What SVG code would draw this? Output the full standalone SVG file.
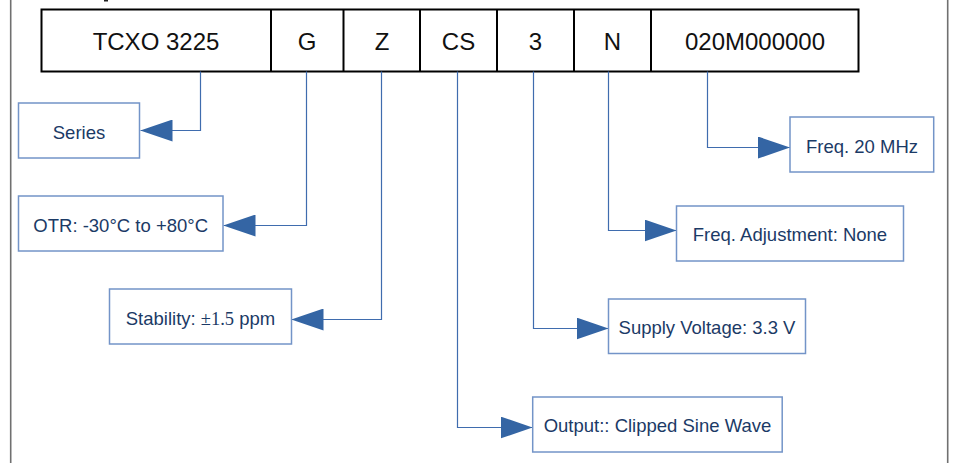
<svg xmlns="http://www.w3.org/2000/svg" width="955" height="463" viewBox="0 0 955 463">
<defs>
<marker id="ah" viewBox="0 0 32 22" refX="32" refY="11" markerWidth="32" markerHeight="22" markerUnits="userSpaceOnUse" orient="auto">
<path d="M0,0 L32,11 L0,22 z" fill="#3465a4"/>
</marker>
<style>
.frame{stroke:#707070;stroke-width:1.6;fill:none}
.code{fill:#fff;stroke:#000;stroke-width:2}
.div{stroke:#000;stroke-width:2}
.ct{font-family:"Liberation Sans",Arial,sans-serif;font-size:24px;fill:#111;text-anchor:middle}
.box{fill:#fff;stroke:#7394c8;stroke-width:1.5}
.bt{font-family:"Liberation Sans",Arial,sans-serif;font-size:18.5px;fill:#1b3a66;text-anchor:middle}
.ser{font-family:"Liberation Serif","Times New Roman",serif}
.conn{fill:none;stroke:#3f6cae;stroke-width:1.2;marker-end:url(#ah)}
</style>
</defs>
<rect width="955" height="463" fill="#fff"/>
<line class="frame" x1="10.7" y1="0" x2="10.7" y2="463"/>
<line class="frame" x1="947.7" y1="0" x2="947.7" y2="463"/>
<rect x="104" y="0" width="4" height="1.5" fill="#222"/>

<g id="code">
<rect class="code" x="41.5" y="9.5" width="817" height="62"/>
<line class="div" x1="271" y1="9.5" x2="271" y2="71.5"/>
<line class="div" x1="343.5" y1="9.5" x2="343.5" y2="71.5"/>
<line class="div" x1="420" y1="9.5" x2="420" y2="71.5"/>
<line class="div" x1="497" y1="9.5" x2="497" y2="71.5"/>
<line class="div" x1="574" y1="9.5" x2="574" y2="71.5"/>
<line class="div" x1="651" y1="9.5" x2="651" y2="71.5"/>
<text class="ct" x="156" y="49.5">TCXO 3225</text>
<text class="ct" x="307" y="49.5">G</text>
<text class="ct" x="382" y="49.5">Z</text>
<text class="ct" x="458.5" y="49.5">CS</text>
<text class="ct" x="535.5" y="49.5">3</text>
<text class="ct" x="612.5" y="49.5">N</text>
<text class="ct" x="755" y="49.5">020M000000</text>
</g>

<g id="connectors">
<path class="conn" d="M200.5,71.5 V130.5 H140.5"/>
<path class="conn" d="M306.5,71.5 V225.5 H223.5"/>
<path class="conn" d="M381.5,71.5 V319.5 H291.5"/>
<path class="conn" d="M457.5,71.5 V427.5 H532.5"/>
<path class="conn" d="M533.5,71.5 V328.5 H608.5"/>
<path class="conn" d="M608.5,71.5 V230.5 H676.5"/>
<path class="conn" d="M707.5,71.5 V147.5 H790"/>
</g>

<g id="series">
<rect class="box" x="18.5" y="103" width="121" height="55"/>
<text class="bt" x="79" y="138.5">Series</text>
</g>
<g id="otr">
<rect class="box" x="18.5" y="196" width="204.5" height="55"/>
<text class="bt" x="120.7" y="231.5">OTR: -30°C to +80°C</text>
</g>
<g id="stability">
<rect class="box" x="109.5" y="289" width="182" height="55"/>
<text class="bt" x="200.5" y="324.5">Stability: <tspan class="ser">±1.5</tspan> ppm</text>
</g>
<g id="output">
<rect class="box" x="532.7" y="397" width="249.5" height="55"/>
<text class="bt" x="657.5" y="432">Output:: Clipped Sine Wave</text>
</g>
<g id="supply">
<rect class="box" x="608.5" y="299" width="197" height="54.5"/>
<text class="bt" x="707" y="333.5">Supply Voltage: 3.3 V</text>
</g>
<g id="freqadj">
<rect class="box" x="676.5" y="206" width="227" height="55"/>
<text class="bt" x="790" y="240.5">Freq. Adjustment: None</text>
</g>
<g id="freq">
<rect class="box" x="790" y="117" width="143.7" height="55"/>
<text class="bt" x="862" y="152.5">Freq. 20 MHz</text>
</g>
</svg>
